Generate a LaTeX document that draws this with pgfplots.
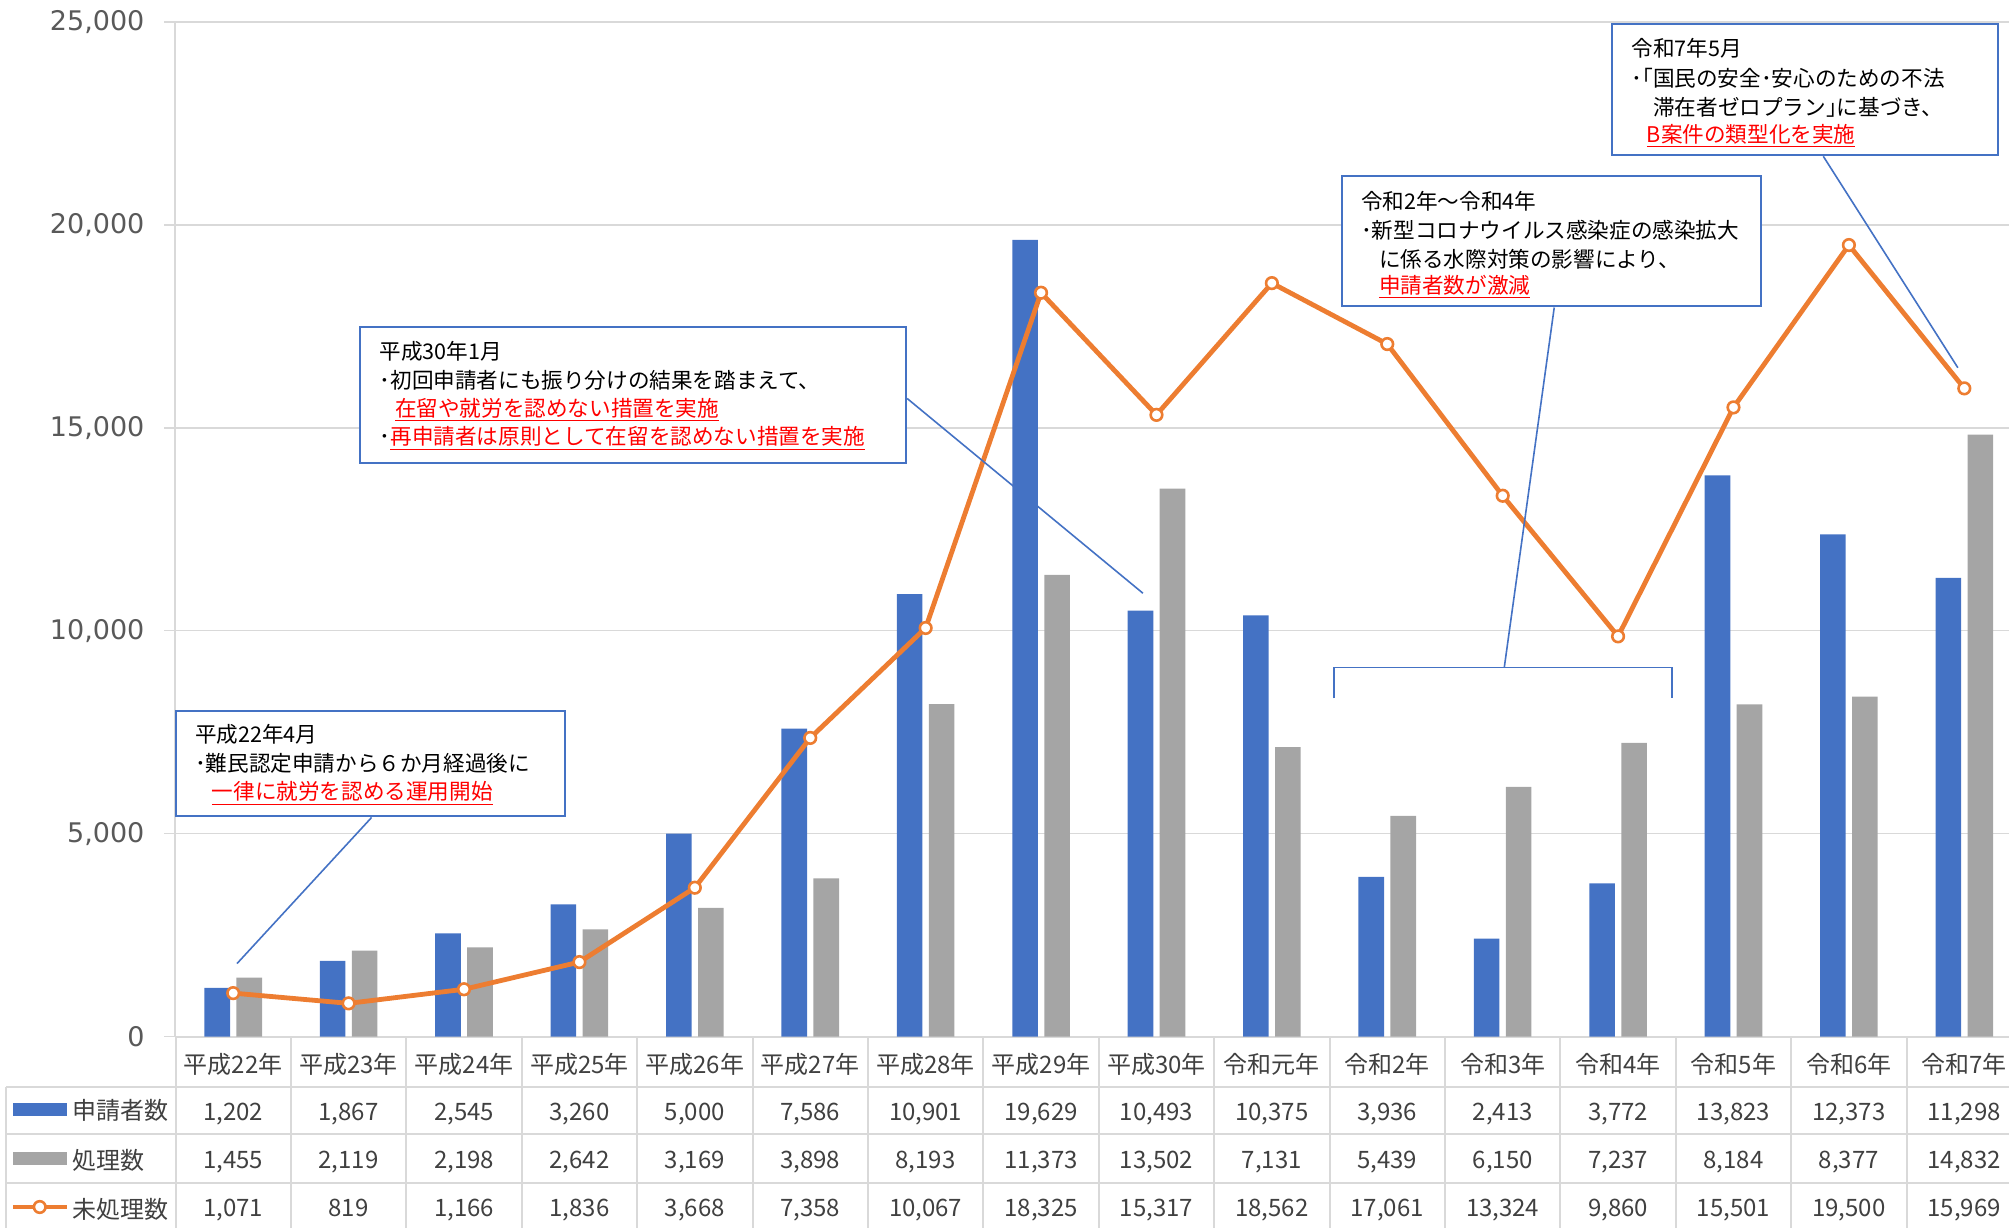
\documentclass[border=0pt]{standalone}
\usepackage{pgfplots}
\pgfplotsset{compat=1.18}
\usepackage{pgfplotstable}
\usepackage{fontspec}
\setmainfont{Noto Sans CJK JP}
\newfontfamily\tickfont{DejaVu Sans}

\definecolor{cblue}{HTML}{4472C4}
\definecolor{cgray}{HTML}{A5A5A5}
\definecolor{corange}{HTML}{ED7D31}
\definecolor{cgrid}{HTML}{D9D9D9}
\definecolor{ctext}{HTML}{404040}
\definecolor{ctick}{HTML}{595959}

\pgfkeys{/pgf/number format/.cd, 1000 sep={,}, assume math mode=true}

% x: year index, app: 申請者数, proc: 処理数, pend: 未処理数
\pgfplotstableread{
x app proc pend
0 1202 1455 1071
1 1867 2119 819
2 2545 2198 1166
3 3260 2642 1836
4 5000 3169 3668
5 7586 3898 7358
6 10901 8193 10067
7 19629 11373 18325
8 10493 13502 15317
9 10375 7131 18562
10 3936 5439 17061
11 2413 6150 13324
12 3772 7237 9860
13 13823 8184 15501
14 12373 8377 19500
15 11298 14832 15969
}\data

\newcommand\tabfont{\fontsize{12}{14}\selectfont}
\newcommand\notefont{\fontsize{10.8}{13}\selectfont}

\begin{document}
\begin{tikzpicture}
\useasboundingbox (0,0) rectangle (1004.5pt,613.5pt);
\begin{axis}[
  at={(87.75pt,95.2pt)}, anchor=south west,
  scale only axis, width=923.25pt, height=507.4pt,
  xmin=-0.5, xmax=15.5, ymin=0, ymax=25000,
  axis x line*=bottom, axis y line*=left,
  axis line style={draw=cgrid, line width=1pt, -},
  ytick={0,5000,...,25000},
  scaled y ticks=false,
  ymajorgrids, grid style={draw=cgrid, line width=0.8pt},
  xtick={0,...,15},
  xticklabels={平成22年,平成23年,平成24年,平成25年,平成26年,平成27年,平成28年,平成29年,平成30年,令和元年,令和2年,令和3年,令和4年,令和5年,令和6年,令和7年},
  x tick style={draw=none},
  y tick style={draw=cgrid, line width=0.8pt},
  major tick length=5.5pt, tick align=outside,
  yticklabel style={font=\tickfont\fontsize{13.5}{16}\selectfont, text=ctick, xshift=-6.5pt},
  xticklabel style={anchor=center, yshift=-8.6pt, font=\tabfont, text=ctext},
  clip=false,
  tabrow/.style={draw=none, mark=none, point meta=explicit, nodes near coords,
    nodes near coords align=center,
    every node near coord/.append style={font=\tabfont, text=ctext, text height=8.8pt, text depth=2pt}},
]
\addplot[ybar, bar width=12.8pt, bar shift=-8pt, fill=cblue, draw=none] table[x=x, y=app] {\data};
\addplot[ybar, bar width=12.8pt, bar shift=8pt, fill=cgray, draw=none] table[x=x, y=proc] {\data};
\addplot[corange, line width=2.4pt, mark=*, mark size=2.9pt,
  mark options={fill=white, draw=corange, line width=1.3pt}] table[x=x, y=pend] {\data};

% data table rows below the axis
\addplot[tabrow] table[x=x, y expr=-1895, meta=app] {\data};
\addplot[tabrow] table[x=x, y expr=-3090, meta=proc] {\data};
\addplot[tabrow] table[x=x, y expr=-4260, meta=pend] {\data};
\end{axis}

\begin{scope}[x=0.64065pt, y=-0.64065pt, shift={(0pt,613.5pt)}]
  % table grid
  \begin{scope}[draw=cgrid, line width=1pt]
    \foreach \k in {0,...,16} \draw ({137+\k*90.07},809) -- ({137+\k*90.07},965);
    \draw (5,848) -- (5,965);
    \foreach \y in {848,885,923} \draw (5,\y) -- (1580,\y);
  \end{scope}
  % legend column
  \fill[cblue] (10,861) rectangle (52,871);
  \fill[cgray] (10,899) rectangle (52,909);
  \draw[corange, line width=2.4pt] (10,942) -- (52,942);
  \draw[corange, line width=1.3pt, fill=white] (31,942) circle (2.9pt);
  \node[anchor=west, font=\tabfont, text=ctext, inner sep=0] at (56,867) {申請者数};
  \node[anchor=west, font=\tabfont, text=ctext, inner sep=0] at (56,905.5) {処理数};
  \node[anchor=west, font=\tabfont, text=ctext, inner sep=0] at (56,943.5) {未処理数};

  % callout lines
  \begin{scope}[draw=cblue, line width=0.8pt]
    \draw (290,638) -- (185,752);
    \draw (708,311) -- (892,463);
    \draw (1213,240) -- (1174,521);
    \draw (1041,545) -- (1041,521) -- (1305,521) -- (1305,545);
    \draw (1423,122) -- (1528,287);
  \end{scope}

  % note boxes
  \begin{scope}[every node/.style={anchor=west, inner sep=0, font=\notefont}]
    \draw[cblue, line width=1pt, fill=white] (137,555) rectangle (441,637);
    \node at (152,573) {平成22年4月};
    \node at (152,596) {･難民認定申請から６か月経過後に};
    \node[text=red] at (165,619) {\underline{一律に就労を認める運用開始}};

    \draw[cblue, line width=1pt, fill=white] (281,255) rectangle (707,361);
    \node at (296,274) {平成30年1月};
    \node at (296,297) {･初回申請者にも振り分けの結果を踏まえて、};
    \node[text=red] at (308,320) {\underline{在留や就労を認めない措置を実施}};
    \node at (296,342) {･\textcolor{red}{\underline{再申請者は原則として在留を認めない措置を実施}}};

    \draw[cblue, line width=1pt, fill=white] (1047,137) rectangle (1374,239);
    \node at (1062,157) {令和2年～令和4年};
    \node at (1062,180) {･新型コロナウイルス感染症の感染拡大};
    \node at (1076,202) {に係る水際対策の影響により、};
    \node[text=red] at (1076,224) {\underline{申請者数が激減}};

    \draw[cblue, line width=1pt, fill=white] (1258,19) rectangle (1559,121);
    \node at (1273,38) {令和7年5月};
    \node at (1273,61) {･｢国民の安全･安心のための不法};
    \node at (1290,84) {滞在者ゼロプラン｣に基づき、};
    \node[text=red] at (1285,106) {\underline{B案件の類型化を実施}};
  \end{scope}
\end{scope}
\end{tikzpicture}
\end{document}
